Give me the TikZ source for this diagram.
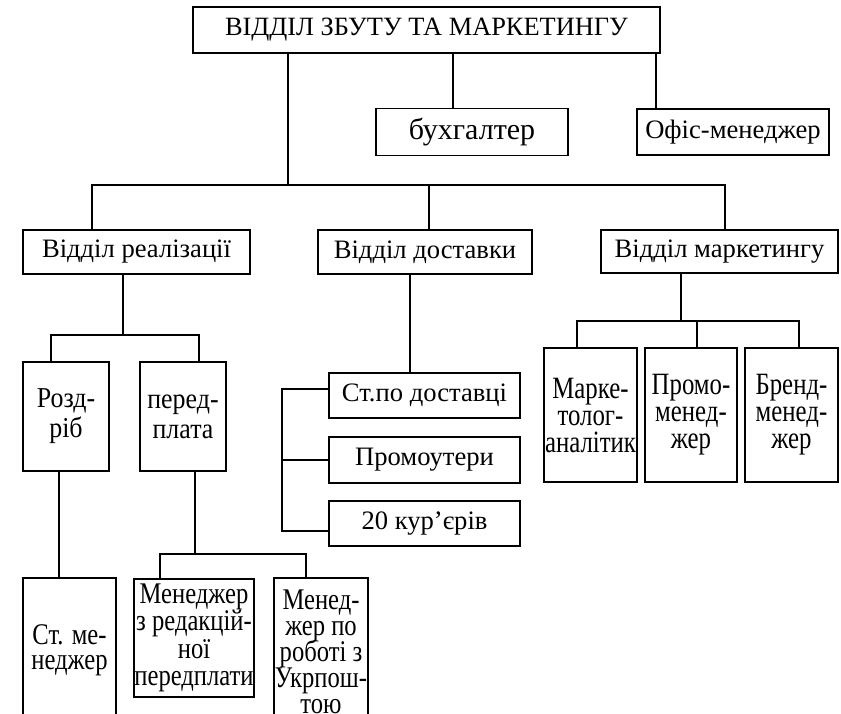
\documentclass[tikz,border=0pt]{standalone}
\usepackage{fontspec}
\setmainfont{Liberation Serif}
\newfontfamily\cndB[FakeStretch=0.82]{Liberation Serif}
\newfontfamily\cndM[FakeStretch=0.8]{Liberation Serif}
\newfontfamily\cndR[FakeStretch=0.9]{Liberation Serif}
\newcommand\tightls{\lineskiplimit-30pt\relax}
\begin{document}
\begin{tikzpicture}[x=0.5pt,y=-0.5pt,
  box/.style={draw,line width=0.55pt,inner sep=0pt,align=center,font=\fontsize{13.3}{14}\selectfont},
  fbot/.style={font={\cndB\fontsize{15}{#1}\selectfont\tightls}},
  fmark/.style={font={\cndM\fontsize{15.5}{13.5}\selectfont\tightls}},
  fmid/.style={font={\cndR\fontsize{14.4}{15}\selectfont\tightls}},
  conn/.style={line width=0.55pt}]
\useasboundingbox (0,0) rectangle (841,713);
\clip (0,0) rectangle (841,713);
% nodes
\node[box,font=\fontsize{13.2}{14}\selectfont,minimum width=233.5pt,minimum height=23pt] (top) at (426.5,30) {ВІДДІЛ ЗБУТУ ТА МАРКЕТИНГУ};
\node[box,font=\fontsize{15}{16}\selectfont,minimum width=96pt,minimum height=23.5pt] (buh) at (472,132) {бухгалтер};
\node[box,minimum width=96pt,minimum height=23pt] (ofis) at (733,132) {Офіс-менеджер};
\node[box,minimum width=113.5pt,minimum height=22pt] (real) at (136.5,252) {Відділ реалізації};
\node[box,minimum width=107pt,minimum height=22pt] (dost) at (425,252) {Відділ доставки};
\node[box,minimum width=118.5pt,minimum height=21.5pt] (mark) at (719.5,251.5) {Відділ маркетингу};
\node[box,fmid,minimum width=43pt,minimum height=54.5pt] (rozd) at (66,416.5) {Розд-\\ріб};
\node[box,fmid,minimum width=43pt,minimum height=54.5pt] (pered) at (183,416.5) {перед-\\плата};
\node[box,fbot=12.5,minimum width=46.5pt,minimum height=72pt] (stman) at (69.5,650) {Ст. ме-\\неджер};
\node[box,fbot=13.7,minimum width=60pt,minimum height=59pt] (menred) at (194,638) {Менеджер\\з редакцій-\\ної\\передплати};
\node[box,fbot=13,minimum width=47pt,minimum height=74pt] (menukr) at (321,652) {Менед-\\жер по\\роботі з\\Укрпош-\\тою};
\node[box,minimum width=95.5pt,minimum height=22.5pt] (stdost) at (424.5,395.5) {Ст.по доставці};
\node[box,minimum width=95.5pt,minimum height=23pt] (promout) at (424.5,460) {Промоутери};
\node[box,minimum width=95.5pt,minimum height=22.5pt] (kur) at (424.5,523.5) {20 кур’єрів};
\node[box,fmark,minimum width=46.5pt,minimum height=67pt] (marktol) at (590.5,415) {Марке-\\толог-\\аналітик};
\node[box,fmark,minimum width=46pt,minimum height=67pt] (promo) at (691,415) {Промо-\\менед-\\жер};
\node[box,fmark,minimum width=46.5pt,minimum height=67pt] (brend) at (791.5,415) {Бренд-\\менед-\\жер};
% coordinates
\coordinate (b1l) at (92,185);
\coordinate (b1r) at (725,185);
\coordinate (d1) at (288,185);
\coordinate (x2) at (453,0);
\coordinate (x3) at (656,0);
\coordinate (xd) at (429,0);
\coordinate (b2l) at (51,335);
\coordinate (b2r) at (199,335);
\coordinate (b2m) at (123,335);
\coordinate (x4) at (59,0);
\coordinate (b3l) at (160,554);
\coordinate (b3r) at (306,554);
\coordinate (b3m) at (195,554);
\coordinate (x5) at (410,0);
\coordinate (s1) at (282,389);
\coordinate (s2) at (282,460);
\coordinate (s3) at (282,531);
\coordinate (b4l) at (577,321);
\coordinate (b4r) at (799,321);
\coordinate (b4m) at (681,321);
\coordinate (b4c) at (697,321);
% connectors
\draw[conn] (top.south -| d1) -- (d1);
\draw[conn] (top.south -| x2) -- (buh.north -| x2);
\draw[conn] (top.south -| x3) -- (ofis.north -| x3);
\draw[conn] (real.north -| b1l) -- (b1l) -- (b1r) -- (mark.north -| b1r);
\draw[conn] (b1l -| xd) -- (dost.north -| xd);
\draw[conn] (real.south -| b2m) -- (b2m);
\draw[conn] (rozd.north -| b2l) -- (b2l) -- (b2r) -- (pered.north -| b2r);
\draw[conn] (rozd.south -| x4) -- (stman.north -| x4);
\draw[conn] (pered.south -| b3m) -- (b3m);
\draw[conn] (menred.north -| b3l) -- (b3l) -- (b3r) -- (menukr.north -| b3r);
\draw[conn] (dost.south -| x5) -- (stdost.north -| x5);
\draw[conn] (stdost.west |- s1) -- (s1) -- (s3) -- (kur.west |- s3);
\draw[conn] (s2) -- (promout.west |- s2);
\draw[conn] (mark.south -| b4m) -- (b4m);
\draw[conn] (marktol.north -| b4l) -- (b4l) -- (b4r) -- (brend.north -| b4r);
\draw[conn] (b4c) -- (promo.north -| b4c);
\end{tikzpicture}
\end{document}
